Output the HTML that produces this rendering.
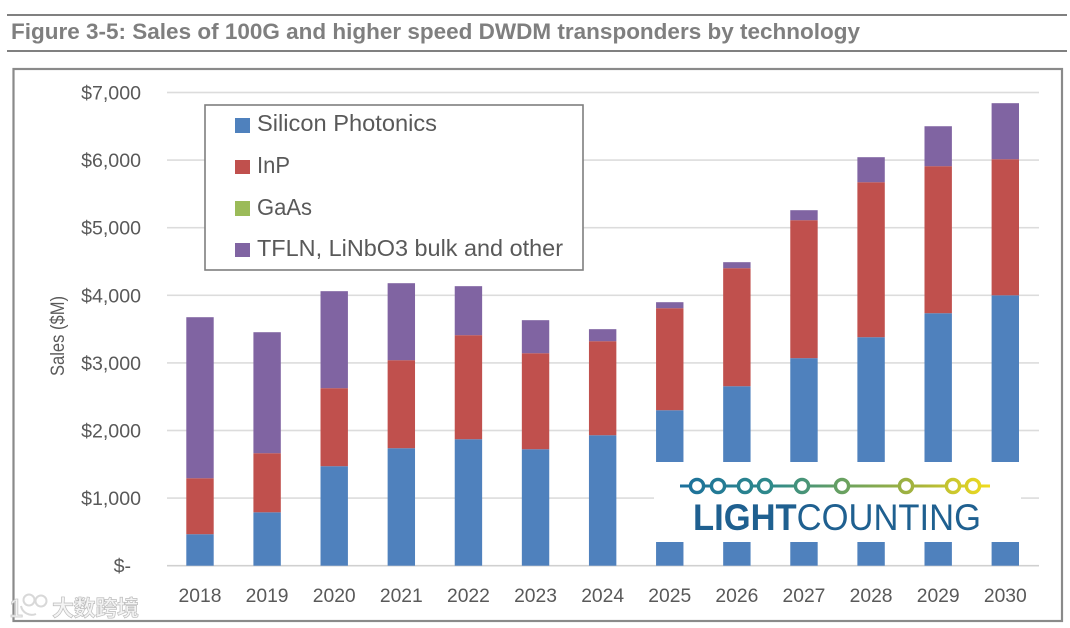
<!DOCTYPE html>
<html lang="en">
<head>
<meta charset="utf-8">
<title>Figure 3-5</title>
<style>
html,body{margin:0;padding:0;background:#fff;width:1070px;height:628px;overflow:hidden}
svg{display:block}
text{font-family:"Liberation Sans","Noto Sans CJK SC",sans-serif}
</style>
</head>
<body>
<svg id="chart" xmlns="http://www.w3.org/2000/svg" width="1070" height="628" viewBox="0 0 1070 628">
  <defs>
    <linearGradient id="logoGrad" gradientUnits="userSpaceOnUse" x1="680" y1="0" x2="990" y2="0">
      <stop offset="0" stop-color="#1b6f9c"/>
      <stop offset="0.3" stop-color="#2f8a8a"/>
      <stop offset="0.55" stop-color="#6fa35c"/>
      <stop offset="0.78" stop-color="#aab53a"/>
      <stop offset="1" stop-color="#f1dc1e"/>
    </linearGradient>
  </defs>
  <rect x="7" y="14" width="1060" height="2" fill="#808080"/>
  <rect x="7" y="50" width="1060" height="2" fill="#808080"/>
  <text x="11" y="39" font-size="22" font-weight="700" fill="#7f7f7f" textLength="849" lengthAdjust="spacingAndGlyphs">Figure 3-5: Sales of 100G and higher speed DWDM transponders by technology</text>
  <rect x="13.5" y="69" width="1048.5" height="552" fill="#fff" stroke="#8a8a8a" stroke-width="2.2"/>
  <g id="plot"></g>
  <text transform="translate(64,336) rotate(-90)" text-anchor="middle" font-size="19" fill="#595959" textLength="80" lengthAdjust="spacingAndGlyphs">Sales ($M)</text>

  <g>
    <rect x="205" y="105" width="378" height="165" fill="#fff" stroke="#7f7f7f" stroke-width="1.6"/>
    <rect x="235" y="118" width="15" height="15" fill="#4f81bd"/>
    <text x="257" y="131" font-size="23" fill="#595959" textLength="180" lengthAdjust="spacingAndGlyphs">Silicon Photonics</text>
    <rect x="235" y="160" width="15" height="14" fill="#c0504d"/>
    <text x="257" y="173" font-size="23" fill="#595959" textLength="33" lengthAdjust="spacingAndGlyphs">InP</text>
    <rect x="235" y="201" width="15" height="15" fill="#9bbb59"/>
    <text x="257" y="215" font-size="23" fill="#595959" textLength="55" lengthAdjust="spacingAndGlyphs">GaAs</text>
    <rect x="235" y="243" width="15" height="14" fill="#8064a2"/>
    <text x="257" y="256" font-size="23" fill="#595959" textLength="306" lengthAdjust="spacingAndGlyphs">TFLN, LiNbO3 bulk and other</text>
  </g>

  <g>
    <rect x="654" y="462" width="367" height="80" fill="#fff"/>
    <rect x="680" y="484.5" width="310" height="3" fill="url(#logoGrad)"/>
    <g fill="#fff" stroke="url(#logoGrad)" stroke-width="3.4">
      <circle cx="697" cy="486" r="6.6"/><circle cx="718" cy="486" r="6.6"/><circle cx="745" cy="486" r="6.6"/>
      <circle cx="765" cy="486" r="6.6"/><circle cx="802" cy="486" r="6.6"/><circle cx="842" cy="486" r="6.6"/>
      <circle cx="906" cy="486" r="6.6"/><circle cx="953" cy="486" r="6.6"/><circle cx="973" cy="486" r="6.6"/>
    </g>
    <text x="693" y="530" font-size="37" fill="#1f6090" textLength="288" lengthAdjust="spacingAndGlyphs"><tspan font-weight="700">LIGHT</tspan><tspan>COUNTING</tspan></text>
  </g>

  <g>
    <text x="9" y="617" font-size="26" fill="#f4f4f4" stroke="#c8c8c8" stroke-width="0.8">1</text>
    <circle cx="29" cy="600" r="5.5" fill="none" stroke="#d8d8d8" stroke-width="2"/>
    <circle cx="41" cy="601" r="5.5" fill="none" stroke="#d8d8d8" stroke-width="2"/>
    <path d="M21 606 A11 11 0 0 0 36 614" fill="none" stroke="#d8d8d8" stroke-width="2"/>
    <text x="52" y="616" font-size="22" font-weight="700" fill="#f4f4f4" stroke="#bdbdbd" stroke-width="0.7" textLength="87">大数跨境</text>
  </g>
</svg>
<script>
var years = ['2018','2019','2020','2021','2022','2023','2024','2025','2026','2027','2028','2029','2030'];
var siliconPhotonics = [466,790,1472,1738,1871,1723,1930,2300,2655,3070,3380,3735,4000];
var inP = [828,874,1154,1302,1539,1420,1391,1509,1746,2041,2293,2175,2013];
var gaAs = [0,0,0,0,0,0,0,0,0,0,0,0,0];
var tfln = [2382,1790,1435,1139,725,489,178,89,89,148,370,591,829];
var yTicks = [0,1000,2000,3000,4000,5000,6000,7000];
var yTickLabels = ['$-','$1,000','$2,000','$3,000','$4,000','$5,000','$6,000','$7,000'];

var NS = 'http://www.w3.org/2000/svg';
var plot = document.getElementById('plot');
var plotLeft = 167, plotRight = 1039, yZero = 565.7, pxPerUnit = 0.0676;
var barWidth = 27.4;
var firstCenter = 200, step = (1005.3 - 200) / 12;

function yScale(v){ return yZero - v * pxPerUnit; }
function xScale(i){ return firstCenter + i * step; }
function make(tag, attrs){
  var el = document.createElementNS(NS, tag);
  for (var k in attrs) el.setAttribute(k, attrs[k]);
  plot.appendChild(el);
  return el;
}

yTicks.forEach(function(t, i){
  var g = make('rect', {x: plotLeft, y: yScale(t) - 0.8, width: plotRight - plotLeft, height: 1.6, fill: t === 0 ? '#d0d0d0' : '#dcdcdc'});
  
  
  var right = t === 0 ? 131 : 141;
  var lab = make('text', {x: right, y: yScale(t) + 7, 'text-anchor': 'end', 'font-size': 19.6, fill: '#595959'});
  lab.textContent = yTickLabels[i];
  
  
});

var stackSeries = [
  {values: siliconPhotonics, color: '#4f81bd'},
  {values: inP, color: '#c0504d'},
  {values: gaAs, color: '#9bbb59'},
  {values: tfln, color: '#8064a2'}
];
years.forEach(function(year, i){
  var base = 0;
  stackSeries.forEach(function(s){
    var v = s.values[i];
    var top = yScale(base + v);
    var bar = make('rect', {x: xScale(i) - barWidth / 2, y: top, width: barWidth, height: yScale(base) - top, fill: s.color});
    
    
    base += v;
  });
  var lab = make('text', {x: xScale(i), y: 602, 'text-anchor': 'middle', 'font-size': 19.3, fill: '#595959'});
  lab.textContent = year;
  
  
});
</script>
</body>
</html>
